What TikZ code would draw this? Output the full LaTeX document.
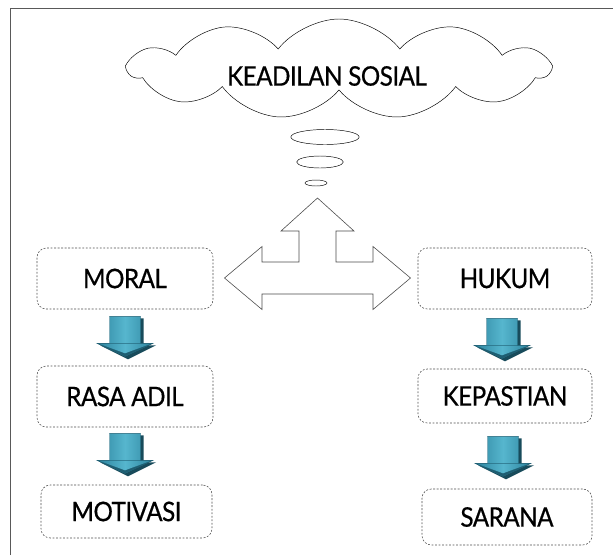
\documentclass[tikz,border=0pt]{standalone}
\usepackage{fontspec}
\setmainfont{Lato}[FakeStretch = 0.9, LetterSpace = -2, FakeBold = 0.6]
\usetikzlibrary{shapes.symbols}
\usetikzlibrary{shapes.geometric}
\usetikzlibrary{calc}
\tikzset{>=latex}

\definecolor{tealdark}{HTML}{1E5E72}
\definecolor{tealmid}{HTML}{2F86A0}
\definecolor{teallight}{HTML}{56B6CE}

\tikzset{
	box/.style = {draw = gray!60!black, dash pattern = on 1.6pt off 1.4pt, line width = 0.5pt, rounded corners = 8pt, inner sep = 0pt},
	bubble/.style = {draw, ellipse, line width = 0.4pt, inner sep = 0pt},
	dnarrow/.pic = {
		% shadow
		\fill[tealdark!80!black] (-12.5,2) -- (18.5,2) -- (18.5,29) -- (31,29) -- (3,43) -- (-25,29) -- (-12.5,29) -- cycle;
		% body
		\shade[left color = tealmid, right color = tealmid, middle color = teallight, draw = tealdark, line width = 0.4pt]
			(-15.5,0) -- (15.5,0) -- (15.5,27) -- (28,27) -- (0,40) -- (-28,27) -- (-15.5,27) -- cycle;
		\fill[tealdark] (-28,27) -- (28,27) -- (0,40) -- (-20,31) -- cycle;
		\shade[left color = tealmid, right color = tealmid, middle color = teallight]
			(-26,27.5) -- (26,27.5) -- (0,37) -- cycle;
	}
}

\begin{document}
\begin{tikzpicture}[x = 0.03cm, y = -0.03cm, font = {\fontsize{23pt}{26}\selectfont}]
\useasboundingbox (0,0) rectangle (613,555);
\draw[gray!70!black, line width = 0.8pt] (10,555) -- (10,8) -- (613,8);

\node[cloud, draw, line width = 0.4pt, cloud puffs = 11, cloud puff arc = 105, cloud ignores aspect, minimum width = 12.6cm, minimum height = 3.0cm] (CLOUD) at (339, 69) {};
\node (TITLE) at (327, 76) {KEADILAN SOSIAL};

\node[bubble, minimum width = 2.05cm, minimum height = 0.45cm] (B1) at (325, 137) {};
\node[bubble, minimum width = 1.4cm, minimum height = 0.36cm] (B2) at (320, 162) {};
\node[bubble, minimum width = 0.66cm, minimum height = 0.18cm] (B3) at (316, 183) {};

\node[box, minimum width = 5.28cm, minimum height = 1.83cm] (MORAL) at (125, 278.5) {MORAL};
\node[box, minimum width = 5.28cm, minimum height = 1.83cm] (RASA) at (125, 396.5) {RASA ADIL};
\node[box, minimum width = 5.13cm, minimum height = 1.59cm] (MOTIV) at (126.5, 511.5) {MOTIVASI};

\node[box, minimum width = 5.22cm, minimum height = 1.83cm] (HUKUM) at (505, 278.5) {HUKUM};
\node[box, minimum width = 5.22cm, minimum height = 1.62cm] (KEPAST) at (505, 396) {KEPASTIAN};
\node[box, minimum width = 5.1cm, minimum height = 1.68cm] (SARANA) at (507, 517) {SARANA};

\coordinate (JOIN) at (317.5, 278);

\begin{scope}[shift = {(JOIN)}]
\draw[gray!60!black, fill = white, line width = 0.5pt] (0,-80) -- (36.5,-47) -- (18.5,-47) -- (18.5,-16) -- (55.5,-16) -- (55.5,-31.5) -- (93,0) -- (55.5,31.5) -- (55.5,16) -- (-55.5,16) -- (-55.5,31.5) -- (-93,0) -- (-55.5,-31.5) -- (-55.5,-16) -- (-18.5,-16) -- (-18.5,-47) -- (-36.5,-47) -- cycle;
\end{scope}

\pic at ($(MORAL.south) + (0,7)$) {dnarrow};
\pic at ($(RASA.south) + (0,6)$) {dnarrow};
\pic at ($(HUKUM.south) + (-3,9)$) {dnarrow};
\pic at ($(KEPAST.south) + (-2,13)$) {dnarrow};
\end{tikzpicture}
\end{document}
